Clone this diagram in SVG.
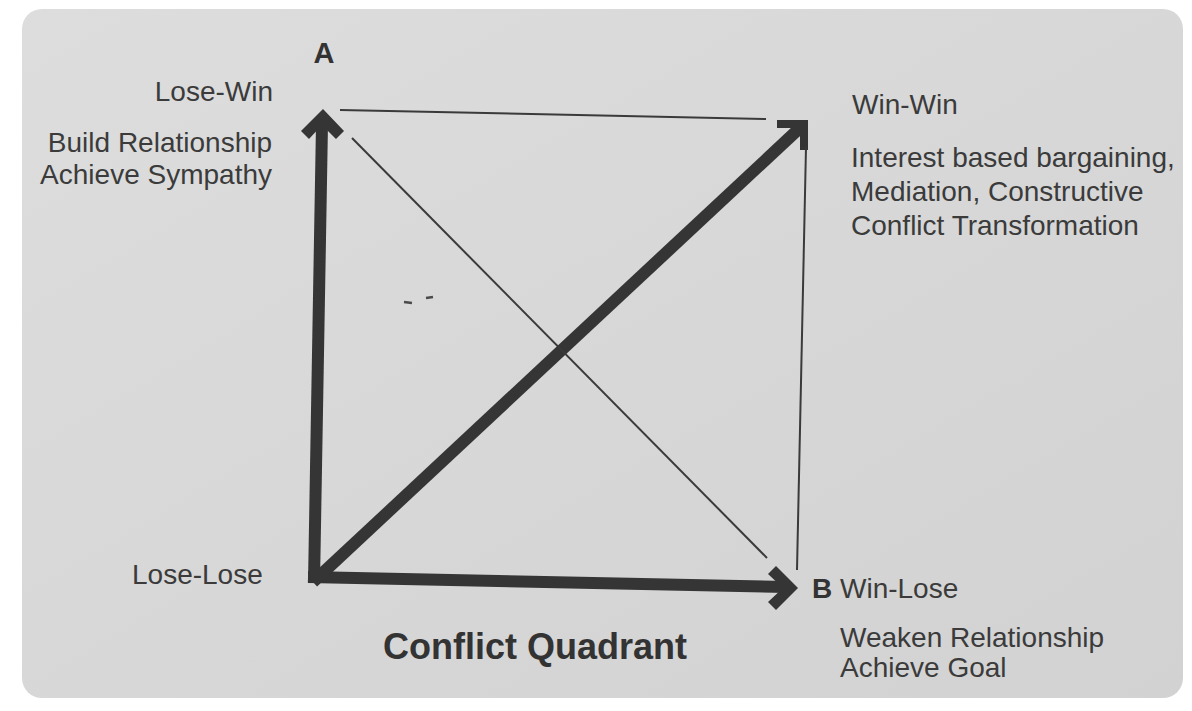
<svg xmlns="http://www.w3.org/2000/svg" width="1192" height="711" viewBox="0 0 1192 711">
  <defs>
    <linearGradient id="bg" x1="0" y1="0" x2="1" y2="1">
      <stop offset="0" stop-color="#dddddd"/>
      <stop offset="1" stop-color="#d2d2d2"/>
    </linearGradient>
    <style>
      text { font-family: "Liberation Sans", Arial, Helvetica, sans-serif; fill: #3b3b3b; font-size: 28px; }
      .bold { font-weight: bold; fill: #333333; }
      .end { text-anchor: end; }
      .mid { text-anchor: middle; }
      .thick { stroke: #353535; stroke-width: 12; fill: none; stroke-linecap: butt; }
      .thin { stroke: #3a3a3a; stroke-width: 2; fill: none; }
      .head { fill: #353535; }
    </style>
  </defs>
  <rect x="0" y="0" width="1192" height="711" fill="#ffffff"/>
  <rect x="22" y="9" width="1161" height="689" rx="20" ry="20" fill="url(#bg)"/>

  <g id="connectors">
    <!-- thick vertical arrow (to A) -->
    <line class="thick" x1="314" y1="583" x2="322" y2="124"/>
    <polygon class="head" points="323,109 344,131 336,139 322,125 309,139 301,131"/>
    <!-- thick horizontal arrow (to B) -->
    <line class="thick" x1="308" y1="577" x2="786" y2="587"/>
    <polygon class="head" points="798,588 776,566 768,574 783,588 768,602 776,610"/>
    <!-- thick diagonal arrow (to Win-Win) -->
    <line class="thick" x1="313" y1="582" x2="803" y2="125"/>
    <polygon class="head" points="777,120 808,120 808,150 800,150 800,128 777,128"/>
    <!-- thin lines -->
    <line class="thin" x1="340" y1="110" x2="766" y2="119"/>
    <line class="thin" x1="352" y1="138" x2="767" y2="558"/>
    <line class="thin" x1="806" y1="147" x2="797" y2="570"/>
    <path d="M404,302 l8,1 M426,298 l7,-1" stroke="#4a4a4a" stroke-width="2.5" fill="none"/>
  </g>

  <g id="node-a">
    <text class="bold mid" x="324" y="63" style="font-size:29px">A</text>
  </g>
  <g id="node-lose-win">
    <text class="end" x="273" y="101">Lose-Win</text>
    <text class="end" x="272" y="152">Build Relationship</text>
    <text class="end" x="272" y="184">Achieve Sympathy</text>
  </g>
  <g id="node-win-win">
    <text x="852" y="114">Win-Win</text>
    <text x="851" y="167">Interest based bargaining,</text>
    <text x="851" y="201">Mediation, Constructive</text>
    <text x="851" y="235">Conflict Transformation</text>
  </g>
  <g id="node-lose-lose">
    <text x="132" y="584">Lose-Lose</text>
  </g>
  <g id="node-b">
    <text class="bold" x="812" y="598">B</text>
    <text x="840" y="598">Win-Lose</text>
    <text x="840" y="647">Weaken Relationship</text>
    <text x="840" y="677">Achieve Goal</text>
  </g>
  <g id="title">
    <text class="bold" x="383" y="659" style="font-size:36px">Conflict Quadrant</text>
  </g>
</svg>
